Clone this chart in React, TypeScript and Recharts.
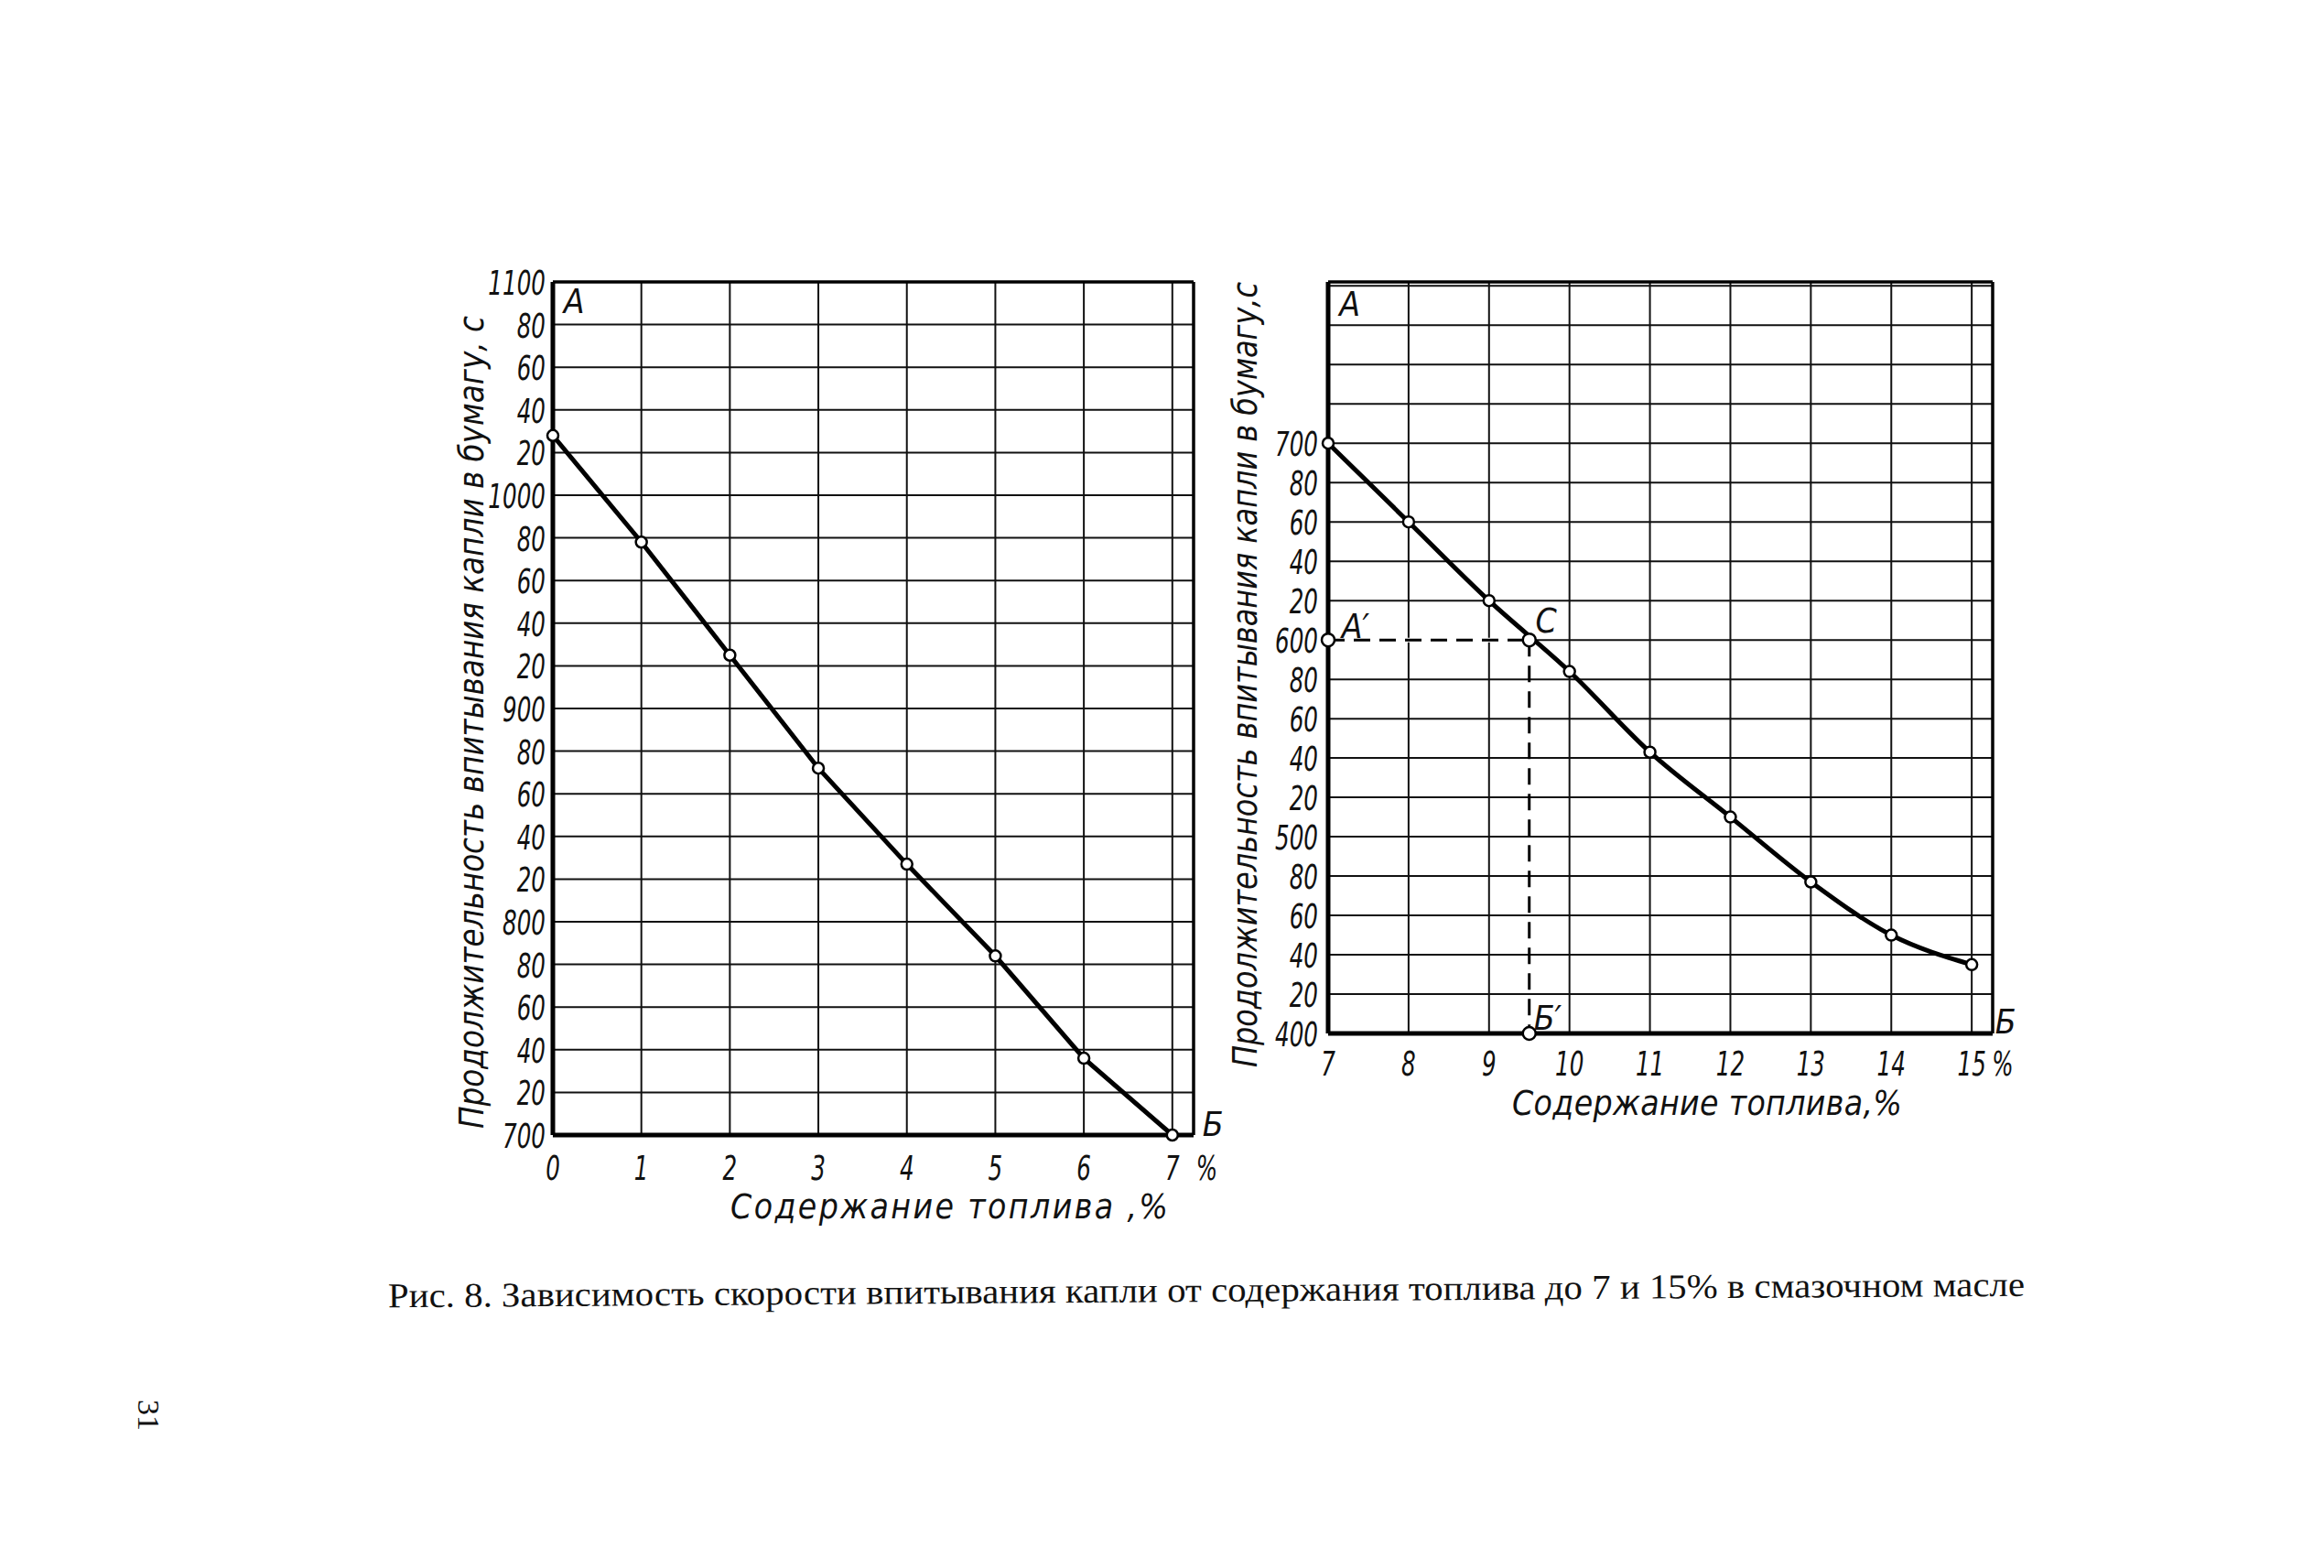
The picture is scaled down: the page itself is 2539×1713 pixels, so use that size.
import React from 'react';
import {
  LineChart, Line, XAxis, YAxis, CartesianGrid, ReferenceLine, ReferenceDot,
} from 'recharts';

// левый график: 0–7 % топлива
const fuelLeft = [0, 1, 2, 3, 4, 5, 6, 7];
const timeLeft = [1028, 978, 925, 872, 827, 784, 736, 700];
const xTicksLeft = [0, 1, 2, 3, 4, 5, 6, 7];
const xLabelsLeft = ['0', '1', '2', '3', '4', '5', '6', '7'];
const yTicksLeft = [700, 720, 740, 760, 780, 800, 820, 840, 860, 880, 900, 920, 940, 960, 980, 1000, 1020, 1040, 1060, 1080, 1100];
const yLabelsLeft = ['700', '20', '40', '60', '80', '800', '20', '40', '60', '80', '900', '20', '40', '60', '80', '1000', '20', '40', '60', '80', '1100'];

// правый график: 7–15 % топлива
const fuelRight = [7, 8, 9, 10, 11, 12, 13, 14, 15];
const timeRight = [700, 660, 620, 584, 543, 510, 477, 450, 435];
const xTicksRight = [7, 8, 9, 10, 11, 12, 13, 14, 15];
const xLabelsRight = ['7', '8', '9', '10', '11', '12', '13', '14', '15'];
const yTicksRight = [400, 420, 440, 460, 480, 500, 520, 540, 560, 580, 600, 620, 640, 660, 680, 700, 720, 740, 760, 780];
const yLabelsRight = ['400', '20', '40', '60', '80', '500', '20', '40', '60', '80', '600', '20', '40', '60', '80', '700', '', '', '', ''];

// построение A' – C – Б'
const cFuel = 9.5;
const cTime = 600;

const leftData = fuelLeft.map((f, i) => ({ fuel: f, time: timeLeft[i] }));
const rightData = fuelRight.map((f, i) => ({ fuel: f, time: timeRight[i] }));

const FONT = '"DejaVu Sans Condensed", "Liberation Sans Narrow", "DejaVu Sans", sans-serif';
const INK = '#111';
const tickFont = { fontFamily: FONT, fontStyle: 'italic', fontSize: 38, fill: INK };
const titleFont = { fontFamily: FONT, fontStyle: 'italic', fontSize: 37, fill: INK };
const NARROW = 0.72; // шрифт на оригинале узкий

function makeYTick(ticks: number[], labels: string[], topShift: number) {
  return (props: any) => {
    const { x, y, payload } = props;
    const i = ticks.indexOf(payload.value);
    const shift = i === ticks.length - 1 ? topShift : 0;
    return (
      <g transform={`translate(${x},${y + 14 + shift}) scale(${NARROW},1)`}>
        <text x={0} y={0} textAnchor="end" {...tickFont}>{labels[i]}</text>
      </g>
    );
  };
}

function makeXTick(ticks: number[], labels: string[], drop: number, pctGap: number) {
  return (props: any) => {
    const { x, y, payload } = props;
    const i = ticks.indexOf(payload.value);
    const last = i === ticks.length - 1;
    return (
      <g>
        <g transform={`translate(${x},${y + drop}) scale(${NARROW},1)`}>
          <text x={0} y={0} textAnchor="middle" {...tickFont}>{labels[i]}</text>
        </g>
        {last && (
          <g transform={`translate(${x + pctGap},${y + drop}) scale(${NARROW},1)`}>
            <text x={0} y={0} textAnchor="start" {...tickFont}>%</text>
          </g>
        )}
      </g>
    );
  };
}

const letter = (value: string) => ({
  value, position: 'center' as const, ...titleFont,
});

const openDot = { r: 6, fill: '#fff', stroke: '#000', strokeWidth: 2.5 };

export default function App() {
  return (
    <div style={{ position: 'relative', width: 2523, height: 1697, background: '#fff' }}>
      <div style={{ position: 'absolute', left: 476, top: 260 }}>
        <LineChart width={900} height={1072} data={leftData}
          margin={{ top: 40, right: 80, bottom: 40, left: 20 }}>
          <CartesianGrid stroke={INK} strokeWidth={2} />
          <XAxis type="number" dataKey="fuel" domain={[0, 7.24]} ticks={xTicksLeft} interval={0}
            height={60} tickSize={0} tickLine={false}
            axisLine={{ stroke: '#000', strokeWidth: 5 }}
            tick={makeXTick(xTicksLeft, xLabelsLeft, 47, 26)} />
          <YAxis type="number" domain={[700, 1100]} ticks={yTicksLeft} interval={0}
            width={100} tickSize={0} tickMargin={8} tickLine={false}
            axisLine={{ stroke: '#000', strokeWidth: 5 }}
            tick={makeYTick(yTicksLeft, yLabelsLeft, 0)} />
          <ReferenceLine y={1100} stroke="#000" strokeWidth={3.5} />
          <ReferenceLine x={7.24} stroke="#000" strokeWidth={3.5} />
          <Line type="linear" dataKey="time" stroke="#000" strokeWidth={5}
            dot={openDot} isAnimationActive={false} />
          <ReferenceDot x={0.24} y={1091} r={0} fill="none" stroke="none" label={letter('A')} />
          <ReferenceDot x={7.46} y={705} r={0} fill="none" stroke="none" ifOverflow="visible" label={letter('Б')} />
        </LineChart>
      </div>

      <div style={{ position: 'absolute', left: 1323, top: 260 }}>
        <LineChart width={926} height={961} data={rightData}
          margin={{ top: 40, right: 80, bottom: 40, left: 20 }}>
          <CartesianGrid stroke={INK} strokeWidth={2} />
          <XAxis type="number" dataKey="fuel" domain={[7, 15.26]} ticks={xTicksRight} interval={0}
            height={60} tickSize={0} tickLine={false}
            axisLine={{ stroke: '#000', strokeWidth: 5 }}
            tick={makeXTick(xTicksRight, xLabelsRight, 44, 22)} />
          <YAxis type="number" domain={[400, 782]} ticks={yTicksRight} interval={0}
            width={100} tickSize={0} tickMargin={11} tickLine={false}
            axisLine={{ stroke: '#000', strokeWidth: 5 }}
            tick={makeYTick(yTicksRight, yLabelsRight, 0)} />
          <ReferenceLine y={782} stroke="#000" strokeWidth={3.5} />
          <ReferenceLine x={15.26} stroke="#000" strokeWidth={3.5} />
          <ReferenceLine segment={[{ x: 7, y: cTime }, { x: cFuel, y: cTime }]} stroke="#fff" strokeWidth={5} />
          <ReferenceLine segment={[{ x: 7, y: cTime }, { x: cFuel, y: cTime }]} stroke="#000" strokeWidth={3} strokeDasharray="18 10" />
          <ReferenceLine segment={[{ x: cFuel, y: cTime }, { x: cFuel, y: 400 }]} stroke="#000" strokeWidth={3} strokeDasharray="18 10" />
          <Line type="monotone" dataKey="time" stroke="#000" strokeWidth={5}
            dot={openDot} isAnimationActive={false} />
          <ReferenceDot x={7} y={cTime} r={7} fill="#fff" stroke="#000" strokeWidth={2.5} />
          <ReferenceDot x={cFuel} y={cTime} r={7} fill="#fff" stroke="#000" strokeWidth={2.5} />
          <ReferenceDot x={cFuel} y={400} r={7} fill="#fff" stroke="#000" strokeWidth={2.5} />
          <ReferenceDot x={7.27} y={771} r={0} fill="none" stroke="none" label={letter('A')} />
          <ReferenceDot x={7.34} y={607} r={0} fill="none" stroke="none" label={letter('A′')} />
          <ReferenceDot x={9.71} y={610} r={0} fill="none" stroke="none" label={letter('C')} />
          <ReferenceDot x={9.73} y={408} r={0} fill="none" stroke="none" label={letter('Б′')} />
          <ReferenceDot x={15.42} y={406} r={0} fill="none" stroke="none" ifOverflow="visible" label={letter('Б')} />
        </LineChart>
      </div>

      <svg width={2523} height={1697} style={{ position: 'absolute', left: 0, top: 0, pointerEvents: 'none' }}>
        <text x={507} y={781} transform="rotate(-90 507 781)" textAnchor="middle" dominantBaseline="central"
          textLength={888} lengthAdjust="spacingAndGlyphs" {...titleFont}>
          Продолжительность впитывания капли в бумагу, с
        </text>
        <text x={1352} y={729} transform="rotate(-90 1352 729)" textAnchor="middle" dominantBaseline="central"
          textLength={858} lengthAdjust="spacingAndGlyphs" {...titleFont}>
          Продолжительность впитывания капли в бумагу,с
        </text>
        <text x={1029} y={1310} textAnchor="middle" dominantBaseline="central"
          textLength={478} lengthAdjust="spacing" {...titleFont}>
          Содержание топлива ,%
        </text>
        <text x={1857} y={1197} textAnchor="middle" dominantBaseline="central"
          textLength={426} lengthAdjust="spacing" {...titleFont}>
          Содержание топлива,%
        </text>
        <text x={1310} y={1401} transform="rotate(-0.4 1310 1401)" textAnchor="middle" dominantBaseline="central"
          textLength={1788} lengthAdjust="spacingAndGlyphs"
          fontFamily='"Liberation Serif", "DejaVu Serif", serif' fontSize={38} fill={INK}>
          Рис. 8. Зависимость скорости впитывания капли от содержания топлива до 7 и 15% в смазочном масле
        </text>
        <text x={154} y={1538} transform="rotate(90 154 1538)" textAnchor="middle" dominantBaseline="central"
          fontFamily='"Liberation Serif", "DejaVu Serif", serif' fontSize={34} fill={INK}>
          31
        </text>
      </svg>
    </div>
  );
}
